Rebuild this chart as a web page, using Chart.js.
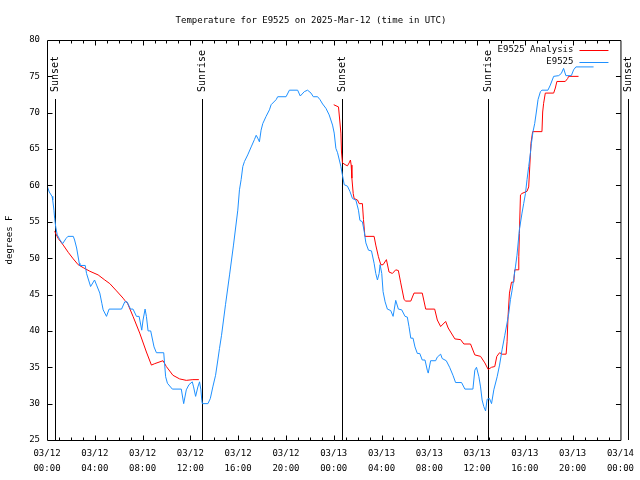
<!DOCTYPE html>
<html>
<head>
<meta charset="utf-8">
<script src="https://cdn.jsdelivr.net/npm/chart.js@4.4.0/dist/chart.umd.min.js"></script>
<style>
  html, body { margin: 0; padding: 0; background: #fff; }
</style>
</head>
<body>
<canvas id="tempChart" width="640" height="480"></canvas>
<script>
// hours since 03/12 00:00 UTC, temperatures in degrees F
const obsHours = [
  0, 0.19, 0.42, 0.48, 0.58, 0.64, 0.73, 0.86, 1.09, 1.31,
  1.59, 1.75, 2.2, 2.31, 2.48, 2.7, 2.75, 3.2, 3.31, 3.48,
  3.65, 3.98, 4.15, 4.42, 4.59, 4.7, 4.98, 5.2, 6.24, 6.51,
  6.7, 6.99, 7.2, 7.49, 7.71, 7.93, 8.04, 8.21, 8.32, 8.46,
  8.68, 8.96, 9.16, 9.77, 9.93, 10.08, 10.49, 11.24, 11.44, 11.66,
  11.88, 12.16, 12.27, 12.44, 12.63, 12.77, 12.88, 12.96, 13.0, 13.47,
  13.67, 13.88, 14.11, 14.3, 14.44, 14.61, 14.94, 15.28, 15.61, 15.97,
  16.11, 16.25, 16.39, 16.53, 16.8, 17.09, 17.36, 17.51, 17.64, 17.78,
  17.92, 18.06, 18.34, 18.62, 18.76, 19.18, 19.31, 20.01, 20.29, 20.98,
  21.2, 21.54, 21.81, 22.1, 22.29, 22.65, 22.85, 23.07, 23.35, 23.62,
  23.9, 24.04, 24.18, 24.32, 24.6, 24.73, 24.88, 25.15, 25.35, 25.57,
  25.85, 26.07, 26.19, 26.4, 26.55, 26.69, 26.91, 27.16, 27.38, 27.52,
  27.66, 27.8, 27.88, 28.02, 28.13, 28.3, 28.49, 28.77, 28.97, 29.19,
  29.41, 29.69, 29.97, 30.16, 30.3, 30.45, 30.64, 30.8, 31.0, 31.2,
  31.41, 31.64, 31.83, 31.91, 32.11, 32.53, 32.67, 32.95, 33.08, 33.42,
  33.7, 33.98, 34.2, 34.7, 34.98, 35.65, 35.81, 35.95, 36.15, 36.29,
  36.42, 36.56, 36.71, 36.84, 37.04, 37.21, 37.4, 37.68, 37.88, 38.09,
  38.32, 38.51, 38.65, 38.79, 38.93, 39.07, 39.21, 39.34, 39.54, 39.76,
  39.9, 40.05, 40.18, 40.32, 40.46, 40.55, 40.68, 40.82, 40.96, 41.1,
  41.3, 41.43, 41.93, 42.13, 42.41, 42.83, 43.05, 43.24, 43.43, 43.89,
  44.08, 44.27, 45.75
];
const obsTemps = [
  60.0, 59.1, 58.5, 58.0, 56.6, 55.5, 54.3, 53.2, 52.5, 52.0,
  52.7, 53.0, 53.0, 52.5, 51.4, 49.3, 49.0, 49.0, 47.9, 47.0,
  46.1, 47.0, 46.3, 45.2, 43.8, 42.9, 42.0, 43.0, 43.0, 44.0,
  44.0, 43.0, 43.0, 42.0, 42.0, 40.1, 41.5, 43.0, 42.0, 40.0,
  40.0, 37.8, 37.0, 37.0, 33.7, 32.8, 32.0, 32.0, 30.0, 31.9,
  32.6, 33.0, 32.3, 31.0, 32.3, 33.0, 31.9, 30.4, 30.0, 30.0,
  30.7, 32.3, 33.9, 36.0, 37.6, 39.4, 43.6, 47.7, 51.8, 56.6,
  59.4, 60.8, 62.6, 63.3, 64.2, 65.3, 66.3, 66.9, 66.5, 66.0,
  67.6, 68.5, 69.5, 70.4, 71.1, 71.8, 72.2, 72.2, 73.1, 73.1,
  72.3, 72.9, 73.1, 72.7, 72.2, 72.2, 71.8, 71.2, 70.6, 69.7,
  68.3, 67.2, 65.1, 64.5, 62.6, 61.4, 60.1, 59.9, 59.2, 58.2,
  58.0, 56.6, 55.2, 55.0, 53.7, 52.1, 51.1, 51.0, 49.3, 47.9,
  47.0, 47.9, 49.1, 47.9, 45.4, 44.0, 43.0, 42.8, 42.0, 44.2,
  43.0, 42.9, 42.0, 41.9, 40.6, 39.0, 39.0, 37.8, 36.9, 36.9,
  36.0, 36.0, 34.6, 34.2, 35.9, 35.9, 36.4, 36.8, 36.2, 35.9,
  35.0, 33.9, 32.9, 32.9, 32.0, 32.0, 34.6, 35.0, 33.7, 32.3,
  30.5, 29.6, 29.0, 30.6, 30.7, 30.0, 31.9, 33.7, 35.3, 37.4,
  39.4, 41.1, 42.4, 44.3, 45.6, 47.2, 48.8, 50.4, 53.9, 56.2,
  57.5, 58.9, 60.8, 62.6, 64.4, 65.8, 67.4, 68.5, 70.1, 71.8,
  72.9, 73.1, 73.1, 73.8, 75.0, 75.1, 75.4, 76.1, 75.1, 75.1,
  75.9, 76.3, 76.3
];

// analysis has a gap between the two runs (null breaks the line)
const anaHours = [
  0.64, 0.94, 1.36, 1.78, 2.2, 2.61, 3.03, 3.59, 4.28, 4.84,
  5.26, 5.82, 6.37, 6.51, 6.74, 7.2, 7.76, 8.32, 8.74, 9.02,
  9.71, 9.99, 10.54, 11.1, 11.66, 12.21, 12.71, 18.0,
  24.0, 24.4, 24.6, 24.65, 24.73, 25.02, 25.15, 25.29, 25.4, 25.46,
  25.52, 25.63, 25.71, 25.99, 26.13, 26.4, 26.49, 26.61, 27.38, 27.52,
  27.74, 27.94, 28.13, 28.41, 28.63, 28.91, 29.19, 29.41, 29.61, 29.89,
  30.03, 30.45, 30.72, 31.41, 31.7, 32.45, 32.67, 32.95, 33.37, 33.58,
  34.14, 34.62, 34.89, 35.45, 35.81, 36.29, 36.65, 36.93, 37.21, 37.48,
  37.65, 37.88, 38.09, 38.43, 38.51, 38.59, 38.71, 38.88, 39.07, 39.15,
  39.43, 39.49, 39.54, 39.63, 39.76, 40.18, 40.32, 40.51, 40.65, 41.43,
  41.49, 41.57, 41.71, 42.41, 42.55, 42.68, 43.38, 43.58, 43.66, 44.49
];
const anaTemps = [
  53.7, 52.7, 51.8, 50.8, 49.9, 49.1, 48.7, 48.2, 47.7, 47.0,
  46.5, 45.5, 44.5, 44.2, 43.8, 42.0, 39.7, 37.1, 35.3, 35.5,
  35.9, 35.1, 33.9, 33.4, 33.2, 33.3, 33.3, null,
  71.1, 70.8, 67.2, 64.6, 63.1, 62.8, 62.7, 63.1, 63.5, 62.8,
  61.0, 58.9, 58.2, 58.0, 57.5, 57.5, 55.3, 53.0, 53.0, 51.8,
  50.2, 49.1, 49.1, 49.8, 48.1, 47.9, 48.4, 48.3, 46.6, 44.3,
  44.1, 44.1, 45.2, 45.2, 43.0, 43.0, 41.5, 40.6, 41.3, 40.4,
  38.9, 38.8, 38.2, 38.2, 36.7, 36.5, 35.6, 34.7, 35.0, 35.1,
  36.5, 37.0, 36.8, 36.8, 38.5, 42.0, 45.2, 46.7, 46.7, 48.4,
  48.4, 50.2, 53.4, 58.7, 58.9, 59.2, 59.8, 65.8, 67.4, 67.4,
  70.1, 71.3, 72.7, 72.7, 73.4, 74.3, 74.3, 74.7, 75.0, 75.0
];

const xTickDates = ['03/12', '03/12', '03/12', '03/12', '03/12', '03/12', '03/13',
                    '03/13', '03/13', '03/13', '03/13', '03/13', '03/14'];
const xTickTimes = ['00:00', '04:00', '08:00', '12:00', '16:00', '20:00', '00:00',
                    '04:00', '08:00', '12:00', '16:00', '20:00', '00:00'];

const sunHours = [0.67, 12.94, 24.71, 36.9, 48.67];
const sunLabels = ['Sunset', 'Sunrise', 'Sunset', 'Sunrise', 'Sunset'];

const FONT_FAMILY = '"DejaVu Sans Mono", "Liberation Mono", monospace';
const FONT = '9px ' + FONT_FAMILY;

function toPoints(hours, temps) {
  return hours.map((h, i) => ({ x: h, y: temps[i] }));
}

// frame, inward ticks, sunrise/sunset markers and the inset key, like gnuplot
const gnuplotBits = {
  id: 'gnuplotBits',
  beforeDatasetsDraw(chart) {
    const { ctx, chartArea: a, scales: { x } } = chart;
    ctx.save();
    ctx.strokeStyle = '#000';
    ctx.lineWidth = 1;
    ctx.beginPath();
    sunHours.forEach(h => {
      const px = Math.round(x.getPixelForValue(h)) + 0.5;
      ctx.moveTo(px, a.top + 59);
      ctx.lineTo(px, a.bottom);
    });
    ctx.stroke();
    ctx.fillStyle = '#000';
    ctx.font = '10px ' + FONT_FAMILY;
    ctx.textAlign = 'left';
    ctx.textBaseline = 'middle';
    sunHours.forEach((h, i) => {
      ctx.save();
      ctx.translate(Math.round(x.getPixelForValue(h)) + 0.5, a.top + 52);
      ctx.rotate(-Math.PI / 2);
      ctx.fillText(sunLabels[i], 0, 0);
      ctx.restore();
    });
    ctx.restore();
  },
  afterDraw(chart) {
    const { ctx, chartArea: a, scales: { x, y } } = chart;
    const L = a.left + 0.5, R = a.right + 0.5, T = a.top + 0.5, B = a.bottom + 0.5;
    ctx.save();
    ctx.strokeStyle = '#000';
    ctx.lineWidth = 1;
    ctx.beginPath();
    ctx.rect(L, T, R - L, B - T);
    for (let h = 1; h < 48; h++) {
      const px = Math.round(x.getPixelForValue(h)) + 0.5;
      const len = h % 4 === 0 ? 5 : 3;
      ctx.moveTo(px, B); ctx.lineTo(px, B - len);
      ctx.moveTo(px, T); ctx.lineTo(px, T + len);
    }
    for (let v = 30; v < 80; v += 5) {
      const py = Math.round(y.getPixelForValue(v)) + 0.5;
      ctx.moveTo(L, py); ctx.lineTo(L + 5, py);
      ctx.moveTo(R, py); ctx.lineTo(R - 5, py);
    }
    ctx.stroke();

    // key
    ctx.font = FONT;
    ctx.textAlign = 'right';
    ctx.textBaseline = 'middle';
    chart.data.datasets.forEach((ds, i) => {
      const ky = a.top + 9.5 + i * 12.5;
      ctx.fillStyle = '#000';
      ctx.fillText(ds.label, a.right - 47, ky);
      ctx.strokeStyle = ds.borderColor;
      ctx.beginPath();
      ctx.moveTo(a.right - 41, Math.round(ky) + 0.5);
      ctx.lineTo(a.right - 12, Math.round(ky) + 0.5);
      ctx.stroke();
    });
    ctx.restore();
  }
};

new Chart(document.getElementById('tempChart').getContext('2d'), {
  type: 'line',
  data: {
    datasets: [{
      label: 'E9525 Analysis',
      data: toPoints(anaHours, anaTemps),
      borderColor: '#ff0000',
      borderWidth: 1,
      pointRadius: 0,
      tension: 0,
      spanGaps: false,
      order: 1
    }, {
      label: 'E9525',
      data: toPoints(obsHours, obsTemps),
      borderColor: '#1e90ff',
      borderWidth: 1,
      pointRadius: 0,
      tension: 0,
      order: 0
    }]
  },
  options: {
    responsive: false,
    animation: false,
    devicePixelRatio: 1,
    layout: { padding: { left: 0, right: 18, top: 0, bottom: 0 } },
    plugins: {
      legend: { display: false },
      tooltip: { enabled: false },
      title: {
        display: true,
        text: 'Temperature for E9525 on 2025-Mar-12 (time in UTC)',
        color: '#000',
        font: { family: FONT_FAMILY, size: 9, weight: 'normal', lineHeight: 1.2 },
        padding: { top: 15, bottom: 14.2 }
      }
    },
    scales: {
      x: {
        type: 'linear',
        min: 0,
        max: 48,
        grid: { display: false, drawTicks: false },
        border: { display: false },
        afterFit(scale) { scale.height = 40; },
        ticks: {
          stepSize: 4,
          padding: 6,
          maxRotation: 0,
          autoSkip: false,
          color: '#000',
          font: { family: FONT_FAMILY, size: 9, lineHeight: 1.7 },
          callback: (v, i) => [xTickDates[i], xTickTimes[i]]
        }
      },
      y: {
        min: 25,
        max: 80,
        grid: { display: false, drawTicks: false },
        border: { display: false },
        afterFit(scale) { scale.width = 47; },
        title: {
          display: true,
          text: 'degrees F',
          color: '#000',
          font: { family: FONT_FAMILY, size: 9, lineHeight: 1.2 },
          padding: { top: 4, bottom: 0 }
        },
        ticks: {
          stepSize: 5,
          padding: 7,
          color: '#000',
          font: { family: FONT_FAMILY, size: 9 }
        }
      }
    }
  },
  plugins: [gnuplotBits]
});
</script>
</body>
</html>
